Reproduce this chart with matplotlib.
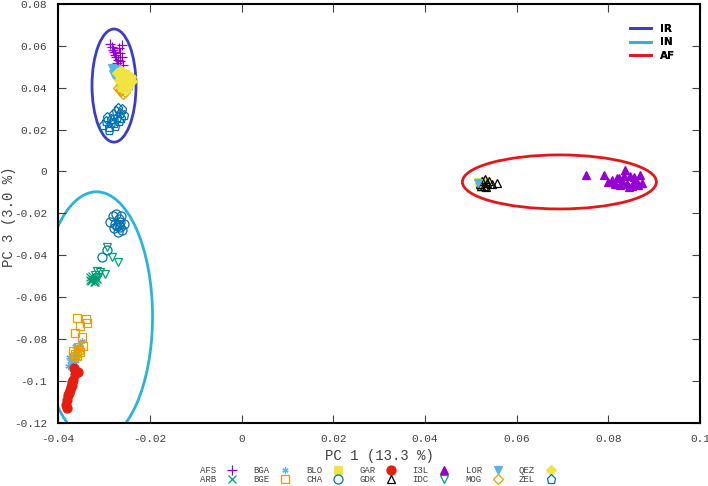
import matplotlib
matplotlib.use("Agg")
import matplotlib.pyplot as plt
from matplotlib.patches import Ellipse
from matplotlib.lines import Line2D
from matplotlib.ticker import FuncFormatter

# population codes and PCA coordinates (PC1, PC3)
afs_x = [-0.0287, -0.0260, -0.0280, -0.0276, -0.0270, -0.0260, -0.0271, -0.0258, -0.0283, -0.0266, -0.0274, -0.0264, -0.0278, -0.0268]
afs_y = [0.0609, 0.0604, 0.0580, 0.0557, 0.0533, 0.0547, 0.0518, 0.0509, 0.0595, 0.0565, 0.0545, 0.0525, 0.0570, 0.0590]
arb_x = [-0.0330, -0.0325, -0.0320, -0.0318, -0.0328, -0.0322, -0.0315, -0.0326, -0.0331, -0.0319]
arb_y = [-0.0505, -0.0515, -0.0520, -0.0508, -0.0525, -0.0530, -0.0512, -0.0498, -0.0518, -0.0526]
bga_x = [-0.0378, -0.0372, -0.0368, -0.0364, -0.0360, -0.0356, -0.0352, -0.0370, -0.0366, -0.0358, -0.0362, -0.0374, -0.0348, -0.0376, -0.0360, -0.0354, 0.0518, 0.0532]
bga_y = [-0.0930, -0.0915, -0.0900, -0.0880, -0.0860, -0.0845, -0.0825, -0.0945, -0.0870, -0.0890, -0.0835, -0.0905, -0.0810, -0.0885, -0.0905, -0.0875, -0.0065, -0.0040]
bge_x = [-0.0359, -0.0339, -0.0337, -0.0352, -0.0363, -0.0348, -0.0345, -0.0356, -0.0368, -0.0362, -0.0358, -0.0352, -0.0366, -0.0355]
bge_y = [-0.0699, -0.0704, -0.0723, -0.0737, -0.0770, -0.0790, -0.0832, -0.0837, -0.0855, -0.0870, -0.0880, -0.0860, -0.0885, -0.0850]
blo_x = [-0.0270, -0.0262, -0.0255, -0.0248, -0.0258, -0.0265, -0.0250, -0.0242, -0.0260, -0.0253, 0.0518, 0.0525, 0.0530, 0.0522]
blo_y = [0.0455, 0.0440, 0.0465, 0.0430, 0.0420, 0.0410, 0.0450, 0.0440, 0.0395, 0.0405, -0.0050, -0.0065, -0.0045, -0.0075]
cha_x = [-0.0287, -0.0280, -0.0274, -0.0268, -0.0262, -0.0256, -0.0278, -0.0270, -0.0264, -0.0275, -0.0266, -0.0272, -0.0268, -0.0261, -0.0304, -0.0293]
cha_y = [-0.0240, -0.0215, -0.0205, -0.0225, -0.0215, -0.0250, -0.0270, -0.0290, -0.0265, -0.0250, -0.0240, -0.0262, -0.0255, -0.0280, -0.0408, -0.0374]
gar_x = [-0.0365, -0.0356, -0.0363, -0.0367, -0.0370, -0.0374, -0.0378, -0.0380, -0.0383, -0.0380, -0.0376, -0.0372, -0.0369]
gar_y = [-0.0937, -0.0957, -0.0966, -0.0995, -0.1019, -0.1043, -0.1066, -0.1090, -0.1114, -0.1128, -0.1057, -0.1030, -0.1005]
gdk_x = [0.0520, 0.0525, 0.0530, 0.0535, 0.0528, 0.0540, 0.0522, 0.0545, 0.0557, 0.0533]
gdk_y = [-0.0060, -0.0045, -0.0035, -0.0055, -0.0068, -0.0045, -0.0070, -0.0058, -0.0054, -0.0072]
i3l_x = [0.0751, 0.0790, 0.0799, 0.0808, 0.0815, 0.0822, 0.0830, 0.0836, 0.0840, 0.0846, 0.0852, 0.0858, 0.0864, 0.0869, 0.0873, 0.0826, 0.0818, 0.0845, 0.0855, 0.0862, 0.0834]
i3l_y = [-0.0016, -0.0016, -0.0050, -0.0040, -0.0058, -0.0030, -0.0045, 0.0008, -0.0062, -0.0020, -0.0070, -0.0040, -0.0065, -0.0016, -0.0055, -0.0065, -0.0030, -0.0075, -0.0025, -0.0048, -0.0020]
idc_x = [-0.0293, -0.0282, -0.0269, -0.0315, -0.0308, -0.0298, -0.0320, -0.0312]
idc_y = [-0.0360, -0.0408, -0.0432, -0.0474, -0.0480, -0.0489, -0.0495, -0.0502]
lor_x = [-0.0282, -0.0278, -0.0272, -0.0268, -0.0280, -0.0275, -0.0276, 0.0516]
lor_y = [0.0494, 0.0480, 0.0488, 0.0470, 0.0465, 0.0452, 0.0475, -0.0055]
mog_x = [-0.0270, -0.0262, -0.0255, -0.0250, -0.0266, -0.0258]
mog_y = [0.0400, 0.0385, 0.0378, 0.0395, 0.0390, 0.0372]
qez_x = [-0.0272, -0.0265, -0.0258, -0.0250, -0.0244, -0.0238, -0.0262, -0.0254, -0.0246, -0.0268, -0.0256, -0.0248, -0.0260, -0.0252, -0.0242]
qez_y = [0.0470, 0.0480, 0.0475, 0.0460, 0.0448, 0.0430, 0.0455, 0.0445, 0.0420, 0.0435, 0.0425, 0.0410, 0.0400, 0.0390, 0.0452]
zel_x = [-0.0302, -0.0296, -0.0290, -0.0284, -0.0278, -0.0272, -0.0266, -0.0260, -0.0256, -0.0288, -0.0280, -0.0274, -0.0268, -0.0294, -0.0276, -0.0262, -0.0284, -0.0270]
zel_y = [0.0220, 0.0240, 0.0210, 0.0250, 0.0230, 0.0260, 0.0280, 0.0300, 0.0270, 0.0200, 0.0275, 0.0290, 0.0240, 0.0260, 0.0215, 0.0255, 0.0230, 0.0305]

groups = [
    ("AFS", afs_x, afs_y, "+", "#9400d3", True),
    ("ARB", arb_x, arb_y, "x", "#009e73", True),
    ("BGA", bga_x, bga_y, (6, 2, 0), "#56b4e9", True),
    ("BGE", bge_x, bge_y, "s", "#e69f00", False),
    ("BLO", blo_x, blo_y, "s", "#f0e442", True),
    ("CHA", cha_x, cha_y, "o", "#0072b2", False),
    ("GAR", gar_x, gar_y, "o", "#e51e10", True),
    ("GDK", gdk_x, gdk_y, "^", "black", False),
    ("I3L", i3l_x, i3l_y, "^", "#9400d3", True),
    ("IDC", idc_x, idc_y, "v", "#009e73", False),
    ("LOR", lor_x, lor_y, "v", "#56b4e9", True),
    ("MOG", mog_x, mog_y, "D", "#e69f00", False),
    ("QEZ", qez_x, qez_y, "D", "#f0e442", True),
    ("ZEL", zel_x, zel_y, "p", "#0072b2", False),
]

# cluster ellipses: (centre x, centre y, width, height, colour)
regions = [("IR", -0.0278, 0.0410, 0.0096, 0.0540, "#3c3cc8"),
           ("IN", -0.0316, -0.0693, 0.0244, 0.1192, "#2ab4d8"),
           ("AF", 0.0693, -0.0050, 0.0423, 0.0258, "#e5161a")]

mono = "Liberation Mono"
grey = "#404040"

fig = plt.figure(figsize=(7.08, 4.86), dpi=100)
ax = fig.add_axes([0.082, 0.130, 0.907, 0.862])

sizes = {"+": 7, "x": 6, "s": 6, "o": 6.5, "^": 5.5, "v": 5.5, "D": 5, "p": 6.5}
handles = []
for name, xs, ys, mk, col, filled in groups:
    ms = sizes.get(mk, 4.5)
    h, = ax.plot(xs, ys, linestyle="none", marker=mk, markersize=ms,
                 color=col, markerfacecolor=col if filled else "none",
                 markeredgewidth=0.9, label=name)
    handles.append(h)

for name, cx, cy, w, hgt, col in regions:
    ax.add_patch(Ellipse((cx, cy), w, hgt, fill=False, edgecolor=col, linewidth=2))

ax.set_xlim(-0.04, 0.1)
ax.set_ylim(-0.12, 0.08)
ax.set_xticks([-0.04, -0.02, 0, 0.02, 0.04, 0.06, 0.08, 0.1])
ax.set_yticks([-0.12, -0.1, -0.08, -0.06, -0.04, -0.02, 0, 0.02, 0.04, 0.06, 0.08])
fmt = FuncFormatter(lambda v, p: "%g" % round(v, 4))
ax.xaxis.set_major_formatter(fmt)
ax.yaxis.set_major_formatter(fmt)
ax.tick_params(direction="in", length=6, width=0.8, top=True, right=True,
               labelsize=8, labelcolor=grey, color=grey, pad=8)
for lbl in ax.get_xticklabels() + ax.get_yticklabels():
    lbl.set_fontfamily(mono)
for sp in ax.spines.values():
    sp.set_linewidth(1.5)

ax.set_xlabel("PC 1 (13.3 %)", fontfamily=mono, fontsize=10, color=grey, labelpad=4)
fig.text(0.013, 0.555, "PC 3 (3.0 %)", rotation=90, ha="center", va="center",
         fontfamily=mono, fontsize=10, color=grey)

# ellipse key in the top right corner
keys = [Line2D([], [], color=c, linewidth=2) for _, _, _, _, _, c in regions]
leg1 = ax.legend(keys, [r[0] for r in regions], loc="upper right",
                 bbox_to_anchor=(0.975, 0.975), frameon=False, handlelength=2.0,
                 handletextpad=0.8, labelspacing=0.35,
                 prop={"family": "DejaVu Sans", "weight": "bold", "size": 7.5})
ax.add_artist(leg1)

# population key at the bottom
fig.legend(handles=handles, loc="lower center", bbox_to_anchor=(0.535, -0.012),
           ncol=7, frameon=False, markerfirst=False, handlelength=1.5,
           handletextpad=1.0, columnspacing=1.6, labelspacing=0.0,
           prop={"family": mono, "size": 6.5}, labelcolor=grey)

fig.savefig("out.png", dpi=100)
